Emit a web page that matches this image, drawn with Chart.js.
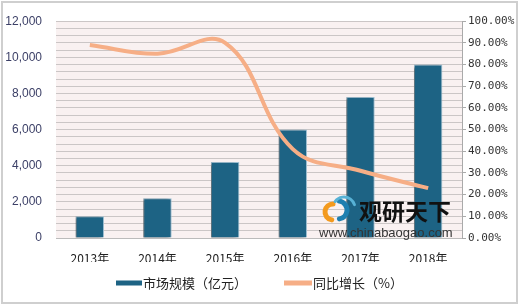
<!DOCTYPE html>
<html>
<head>
<meta charset="utf-8">
<script src="https://cdn.jsdelivr.net/npm/chart.js@4.4.0/dist/chart.umd.min.js"></script>
<style>
  html, body { margin: 0; padding: 0; background: #fff; }
  #wrap { width: 520px; height: 307px; }
</style>
</head>
<body>
<div id="wrap"><canvas id="marketChart" width="520" height="307"></canvas></div>
<script>
// datos
const years = ['2013年', '2014年', '2015年', '2016年', '2017年', '2018年'];
const marketSize = [1200, 2200, 4200, 6000, 7800, 9600];   // 亿元
const growthRate = [89, 85, 90, 41, 31, 23];              // %
const leftTicks = [0, 2000, 4000, 6000, 8000, 10000, 12000];

const barColor = '#1d6384';
const lineColor = '#f6ae86';

// fondo del area de trazado, marco exterior, leyenda y marca de agua
const decoPlugin = {
    id: 'deco',
    beforeDraw(chart) {
        const { ctx, chartArea: a } = chart;
        ctx.save();
        ctx.fillStyle = '#fff';
        ctx.fillRect(0, 0, chart.width, chart.height);
        ctx.fillStyle = '#f9f1f1';
        ctx.fillRect(a.left, a.top, a.right - a.left, a.bottom - a.top);
        ctx.restore();
    },
    beforeDatasetDraw(chart, args) {
        if (args.index === 0) {
            const ctx = chart.ctx;
            ctx.save();
            ctx.shadowColor = 'rgba(0,0,0,0.45)';
            ctx.shadowBlur = 3;
            ctx.shadowOffsetX = -3;
            ctx.shadowOffsetY = 1;
        }
    },
    afterDatasetDraw(chart, args) {
        if (args.index === 0) chart.ctx.restore();
    },
    afterDatasetsDraw(chart) {
        const ctx = chart.ctx;
        ctx.save();
        // icono
        ctx.lineCap = 'round';
        ctx.lineWidth = 5;
        ctx.strokeStyle = '#f39a1e';
        ctx.beginPath();
        ctx.arc(333, 212, 8, Math.PI * 0.55, Math.PI * 1.5);
        ctx.stroke();
        ctx.strokeStyle = '#1f7fb0';
        ctx.beginPath();
        ctx.arc(338, 210, 9, Math.PI * 1.55, Math.PI * 0.45);
        ctx.stroke();
        ctx.strokeStyle = '#58b2d6';
        ctx.lineWidth = 3;
        ctx.beginPath();
        ctx.arc(344, 208, 11, Math.PI * 1.2, Math.PI * 1.9);
        ctx.stroke();
        // texto
        ctx.fillStyle = '#111';
        ctx.font = 'bold 23px "Noto Sans CJK SC"';
        ctx.textBaseline = 'middle';
        ctx.fillText('观研天下', 359, 211);
        ctx.fillStyle = '#333';
        ctx.font = '13px "Liberation Sans"';
        ctx.fillText('www.chinabaogao.com', 319, 233);
        ctx.restore();
    },
    afterDraw(chart) {
        const ctx = chart.ctx;
        const ds = chart.data.datasets;
        ctx.save();
        // leyenda
        ctx.font = '13px "Noto Sans CJK SC"';
        ctx.textBaseline = 'middle';
        const y = 283;
        ctx.fillStyle = barColor;
        ctx.fillRect(116, y - 2.5, 26, 5);
        ctx.fillStyle = '#222';
        ctx.fillText(ds[0].label, 143, y);
        ctx.fillStyle = lineColor;
        ctx.fillRect(284, y - 2.5, 28, 5);
        ctx.fillStyle = '#222';
        ctx.fillText(ds[1].label, 313, y);
        // marco
        ctx.strokeStyle = '#cfcfcf';
        ctx.lineWidth = 2;
        ctx.strokeRect(2, 2, 515, 301);
        ctx.restore();
    }
};

const config = {
    data: {
        labels: years,
        datasets: [{
            type: 'bar',
            label: '市场规模（亿元）',
            data: marketSize,
            backgroundColor: barColor,
            borderColor: '#9fc0d2',
            borderWidth: 1,
            barPercentage: 0.42,
            categoryPercentage: 1,
            yAxisID: 'y',
            order: 2
        }, {
            type: 'line',
            label: '同比增长（%）',
            data: growthRate,
            borderColor: lineColor,
            backgroundColor: lineColor,
            borderWidth: 4,
            pointRadius: 0,
            tension: 0.4,
            yAxisID: 'y1',
            order: 1
        }]
    },
    options: {
        responsive: false,
        animation: false,
        layout: { padding: { top: 19, left: 0, right: 0, bottom: 45 } },
        plugins: {
            tooltip: { enabled: false },
            legend: { display: false }
        },
        scales: {
            x: {
                grid: { display: false },
                border: { display: true, color: '#bbb' },
                ticks: {
                    color: '#222',
                    padding: 5,
                    font: { family: '"Noto Sans CJK SC"', size: 12 }
                },
                afterFit(scale) { scale.height = 24; }
            },
            y: {
                position: 'left',
                min: 0,
                max: 12000,
                grid: { color: '#cbc6c6', lineWidth: 1, drawTicks: false },
                border: { display: false },
                ticks: {
                    stepSize: 400,
                    autoSkip: false,
                    padding: 14,
                    color: '#3b3f66',
                    font: { family: '"Liberation Sans"', size: 12 },
                    callback: v => leftTicks.includes(v) ? v.toLocaleString('en-US') : ''
                },
                afterFit(scale) { scale.width = 56; }
            },
            y1: {
                position: 'right',
                min: 0,
                max: 100,
                grid: { drawOnChartArea: false, color: '#aaa', tickLength: 4 },
                border: { display: true, color: '#aaa' },
                ticks: {
                    stepSize: 10,
                    padding: 2,
                    color: '#333',
                    font: { family: '"DejaVu Sans Mono"', size: 11 },
                    callback: v => v.toFixed(2) + '%'
                },
                afterFit(scale) { scale.width = 58; }
            }
        }
    },
    plugins: [decoPlugin]
};

const ctx = document.getElementById('marketChart').getContext('2d');
new Chart(ctx, config);
</script>
</body>
</html>
